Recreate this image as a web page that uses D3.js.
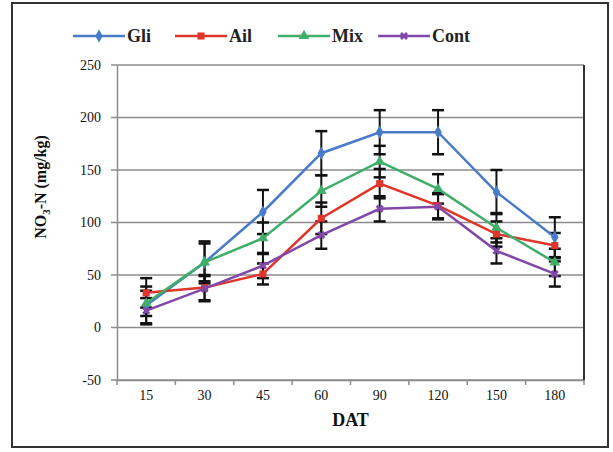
<!DOCTYPE html>
<html>
<head>
<meta charset="utf-8">
<script src="https://cdnjs.cloudflare.com/ajax/libs/d3/7.8.5/d3.min.js"></script>
<style>
  body { margin: 0; background: #fff; }
  text { font-family: "Liberation Serif", "Times New Roman", serif; }
</style>
</head>
<body>
<div id="chart"></div>
<script>
'use strict';

// days after transplanting
var days = ['15', '30', '45', '60', '90', '120', '150', '180'];

var gliValues  = [21, 62, 110, 166, 186, 186, 129, 86];
var ailValues  = [33, 38, 51, 104, 137, 116, 89, 78];
var mixValues  = [23, 62, 85, 130, 158, 132, 95, 62];
var contValues = [16, 37, 59, 88, 113, 115, 73, 51];

var gliErr  = [18, 20, 21, 21, 21, 21, 21, 19];
var ailErr  = [14, 12, 10, 15, 14, 12, 12, 12];
var mixErr  = [12, 18, 15, 15, 15, 14, 14, 13];
var contErr = [12, 12, 12, 13, 12, 12, 12, 12];

var yTicks = [-50, 0, 50, 100, 150, 200, 250];

var series = [
  {name: 'Gli',  values: gliValues,  err: gliErr,  color: '#4a7bc8', symbol: d3.symbolDiamond},
  {name: 'Ail',  values: ailValues,  err: ailErr,  color: '#e0352b', symbol: d3.symbolSquare},
  {name: 'Mix',  values: mixValues,  err: mixErr,  color: '#3fae68', symbol: d3.symbolTriangle},
  {name: 'Cont', values: contValues, err: contErr, color: '#8048a8', symbol: d3.symbolCross}
];

var width = 613, height = 452;
var plot = {left: 117, right: 584, top: 65, bottom: 380};

var svg = d3.select('#chart').append('svg')
  .attr('width', width)
  .attr('height', height);

// outer frame
svg.append('rect')
  .attr('x', 12).attr('y', 3)
  .attr('width', 596).attr('height', 444)
  .attr('fill', 'none').attr('stroke', '#333').attr('stroke-width', 2);

var x = d3.scaleBand().domain(days).range([plot.left, plot.right]);
var y = d3.scaleLinear().domain([-50, 250]).range([plot.bottom, plot.top]);

// horizontal gridlines
svg.append('g').selectAll('line').data(yTicks).enter().append('line')
  .attr('x1', plot.left - 6).attr('x2', plot.right)
  .attr('y1', function(d){ return y(d); })
  .attr('y2', function(d){ return y(d); })
  .attr('stroke', '#8c8c8c').attr('stroke-width', 1.3);

// y axis
var yAxis = svg.append('g')
  .attr('transform', 'translate(' + plot.left + ',0)')
  .call(d3.axisLeft(y).tickValues(yTicks).tickSize(0).tickPadding(16)
    .tickFormat(function(d){ return String(d); }));
yAxis.select('.domain').attr('stroke', '#8c8c8c').attr('stroke-width', 1.5);
yAxis.selectAll('text')
  .attr('font-size', 14).attr('fill', '#111')
  .attr('font-family', '"Liberation Serif", serif');

// x axis
var xAxis = svg.append('g')
  .attr('transform', 'translate(0,' + plot.bottom + ')')
  .call(d3.axisBottom(x).tickSize(0).tickPadding(10));
xAxis.select('.domain').attr('stroke', '#8c8c8c').attr('stroke-width', 1.5);
xAxis.selectAll('text')
  .attr('font-size', 14).attr('fill', '#111')
  .attr('font-family', '"Liberation Serif", serif');
// tick marks between categories
svg.append('g').selectAll('line')
  .data(days.concat(['end']))
  .enter().append('line')
  .attr('x1', function(d, i){ return plot.left + i * x.step(); })
  .attr('x2', function(d, i){ return plot.left + i * x.step(); })
  .attr('y1', plot.bottom).attr('y2', plot.bottom + 5)
  .attr('stroke', '#8c8c8c').attr('stroke-width', 1.5);

// right border of plot area
svg.append('line')
  .attr('x1', plot.right).attr('x2', plot.right)
  .attr('y1', plot.top).attr('y2', plot.bottom)
  .attr('stroke', '#333').attr('stroke-width', 2);

var cx = function(i){ return x(days[i]) + x.bandwidth() / 2; };

// error bars first, lines on top
series.forEach(function(s){
  var g = svg.append('g');
  s.values.forEach(function(v, i){
    var lo = y(v - s.err[i]), hi = y(v + s.err[i]);
    g.append('line').attr('x1', cx(i)).attr('x2', cx(i)).attr('y1', lo).attr('y2', hi)
      .attr('stroke', '#111').attr('stroke-width', 2);
    [lo, hi].forEach(function(yy){
      g.append('line').attr('x1', cx(i) - 6).attr('x2', cx(i) + 6).attr('y1', yy).attr('y2', yy)
        .attr('stroke', '#111').attr('stroke-width', 2.5);
    });
  });
});

var line = d3.line()
  .x(function(d, i){ return cx(i); })
  .y(function(d){ return y(d); });

series.forEach(function(s){
  svg.append('path')
    .datum(s.values)
    .attr('d', line)
    .attr('fill', 'none')
    .attr('stroke', s.color)
    .attr('stroke-width', 2.5);

  svg.append('g').selectAll('path').data(s.values).enter().append('path')
    .attr('transform', function(d, i){
      var rot = s.name === 'Cont' ? ' rotate(45)' : '';
      return 'translate(' + cx(i) + ',' + y(d) + ')' + rot;
    })
    .attr('d', d3.symbol().type(s.symbol).size(s.name === 'Cont' ? 40 : 50))
    .attr('fill', s.color);
});

// legend
var legendX = [73, 175, 278, 378];
var legend = svg.append('g').attr('transform', 'translate(0,36)');
series.forEach(function(s, i){
  var lg = legend.append('g').attr('transform', 'translate(' + legendX[i] + ',0)');
  lg.append('line').attr('x1', 0).attr('x2', 52).attr('y1', 0).attr('y2', 0)
    .attr('stroke', s.color).attr('stroke-width', 2.5);
  lg.append('path')
    .attr('transform', 'translate(26,0)' + (s.name === 'Cont' ? ' rotate(45)' : ''))
    .attr('d', d3.symbol().type(s.symbol).size(s.name === 'Cont' ? 40 : 50))
    .attr('fill', s.color);
  lg.append('text').attr('x', 54).attr('y', 6)
    .attr('font-size', 18).attr('font-weight', 'bold').attr('fill', '#222')
    .text(s.name);
});

// axis titles
svg.append('text')
  .attr('x', (plot.left + plot.right) / 2).attr('y', 426)
  .attr('text-anchor', 'middle')
  .attr('font-size', 18).attr('font-weight', 'bold').attr('fill', '#111')
  .text('DAT');

var yt = svg.append('text')
  .attr('transform', 'translate(46,187) rotate(-90)')
  .attr('text-anchor', 'middle')
  .attr('font-size', 16).attr('font-weight', 'bold').attr('fill', '#111');
yt.append('tspan').text('NO');
yt.append('tspan').attr('font-size', 11).attr('dy', 4).text('3');
yt.append('tspan').attr('dy', -4).text('-N (mg/kg)');
</script>
</body>
</html>
